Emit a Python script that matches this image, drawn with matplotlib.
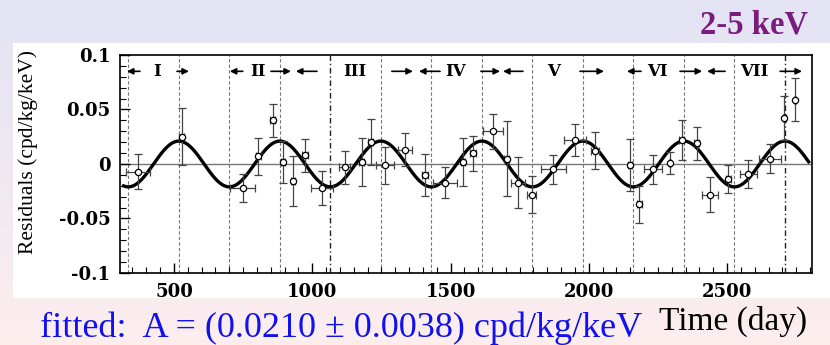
import numpy as np
import matplotlib
matplotlib.use("Agg")
from matplotlib import pyplot as plt
from matplotlib.ticker import MultipleLocator, FuncFormatter

# residual rate points: time (day), residual, half-width in time, error
t_days = [370, 528, 748, 805, 857, 895, 931, 974, 1034, 1118, 1179, 1211, 1263,
          1335, 1408, 1480, 1546, 1582, 1655, 1703, 1745, 1793, 1872, 1950, 2023,
          2149, 2183, 2233, 2294, 2336, 2390, 2438, 2505, 2577, 2656, 2707, 2746]
resid = [-0.007, 0.025, -0.022, 0.007, 0.040, 0.002, -0.016, 0.008, -0.022,
         -0.003, 0.002, 0.020, -0.001, 0.013, -0.010, -0.017, 0.002, 0.010,
         0.030, 0.005, -0.017, -0.028, -0.005, 0.022, 0.012, -0.001, -0.037,
         -0.005, 0.001, 0.022, 0.019, -0.028, -0.014, -0.009, 0.005, 0.042, 0.059]
t_err = [45, 8, 45, 8, 10, 8, 8, 10, 40, 20, 10, 8, 33, 25, 10, 45, 8, 10, 36,
         8, 25, 15, 44, 40, 15, 8, 8, 33, 5, 8, 8, 30, 10, 30, 40, 5, 5]
resid_err = [0.016, 0.026, 0.013, 0.017, 0.015, 0.019, 0.023, 0.015, 0.016,
             0.015, 0.022, 0.021, 0.017, 0.015, 0.019, 0.014, 0.022, 0.016,
             0.016, 0.034, 0.023, 0.017, 0.013, 0.015, 0.017, 0.024, 0.017,
             0.013, 0.010, 0.018, 0.015, 0.016, 0.013, 0.013, 0.013, 0.020, 0.020]

# fit: A cos(2pi/T (t - t0))
amp = 0.0210
amp_err = 0.0038
period = 365.25
phase = 152.5

# annual cycle labels and the arrows marking their extent
cycle_names = ['I', 'II', 'III', 'IV', 'V', 'VI', 'VII']
cycle_pos = [438, 804, 1155, 1520, 1871, 2250, 2598]
arrow_tail = [377, 511, 749, 851, 1017, 1288, 1462, 1610, 1762, 1968, 2189, 2330, 2493, 2692]
arrow_head = [330, 554, 702, 923, 941, 1364, 1386, 1679, 1690, 2055, 2138, 2410, 2428, 2771]

plt.rcParams['axes.unicode_minus'] = False

fig = plt.figure(figsize=(8.3, 3.45), dpi=100)

# slide background gradient + white panel
bg = fig.add_axes([0, 0, 1, 1], zorder=-10)
top_c = np.array([0.890, 0.890, 0.960])
bot_c = np.array([0.992, 0.933, 0.933])
g = np.linspace(0, 1, 256)[:, None, None]
bg.imshow(top_c * (1 - g) + bot_c * g, aspect='auto', extent=[0, 1, 0, 1])
bg.add_patch(plt.Rectangle((0.0157, 0.136), 0.99, 0.739, color='white', lw=0))
bg.set_xlim(0, 1)
bg.set_ylim(0, 1)
bg.axis('off')

ax = fig.add_axes([0.1446, 0.2087, 0.834, 0.632])
ax.set_xlim(305, 2808)
ax.set_ylim(-0.1, 0.1)

# period boundaries (maxima and minima of the expected modulation)
bounds = phase + period / 2 * np.arange(1, 15)
for b in bounds:
    if abs(b - 1065.6) < 1 or abs(b - 2709.25) < 1:
        ax.axvline(b, color='#222222', lw=1.0, ls=(0, (4, 2, 1, 2)), zorder=1)
    else:
        ax.axvline(b, color='#777777', lw=0.8, ls=(0, (3, 2)), zorder=1)

ax.axhline(0, color='#777777', lw=1.0, zorder=1)

tt = np.linspace(318, 2795, 600)
ax.plot(tt, amp * np.cos(2 * np.pi / period * (tt - phase)), color='black', lw=2.4, zorder=3)

ax.errorbar(t_days, resid, xerr=t_err, yerr=resid_err, fmt='o', ms=4.5,
            mfc='white', mec='black', mew=0.9, ecolor='#444444', elinewidth=0.9,
            capsize=3, capthick=0.9, zorder=4)

for name, pos in zip(cycle_names, cycle_pos):
    ax.text(pos, 0.085, name, ha='center', va='center', family='DejaVu Serif',
            weight='bold', fontsize=12, zorder=5)
for tail, head in zip(arrow_tail, arrow_head):
    ax.annotate('', xy=(head, 0.085), xytext=(tail, 0.085),
                arrowprops=dict(arrowstyle='-|>', lw=1.2, color='black',
                                mutation_scale=9, shrinkA=0, shrinkB=0), zorder=5)

ax.xaxis.set_major_locator(MultipleLocator(500))
ax.xaxis.set_minor_locator(MultipleLocator(50))
ax.yaxis.set_major_locator(MultipleLocator(0.05))
ax.yaxis.set_minor_locator(MultipleLocator(0.01))
ax.yaxis.set_major_formatter(FuncFormatter(lambda v, p: '0' if abs(v) < 1e-9 else ('%g' % v)))
ax.tick_params(which='both', direction='in', top=False, right=False)
ax.tick_params(which='major', length=7, width=1.0, pad=7)
ax.tick_params(which='minor', length=4, width=0.8)
for lbl in ax.get_xticklabels() + ax.get_yticklabels():
    lbl.set_family('DejaVu Serif')
    lbl.set_weight('bold')
    lbl.set_fontsize(13)
for s in ax.spines.values():
    s.set_linewidth(1.2)

fig.text(28 / 830, 1 - 152 / 345, 'Residuals (cpd/kg/keV)', rotation=90,
         ha='center', va='center', family='Liberation Serif', fontsize=15.5)
fig.text(0.973, 0.904, '2-5 keV', ha='right', va='baseline', family='Liberation Serif',
         weight='bold', fontsize=23.5, color='#7a1c7e')
fig.text(0.973, 0.0435, 'Time (day)', ha='right', va='baseline',
         family='Liberation Serif', fontsize=24)
fig.text(0.048, 0.024, 'fitted:  A = (%.4f \u00b1 %.4f) cpd/kg/keV' % (amp, amp_err),
         ha='left', va='baseline', family='Liberation Serif', fontsize=26, color='#1010f0')

fig.savefig('out.png', dpi=100)
